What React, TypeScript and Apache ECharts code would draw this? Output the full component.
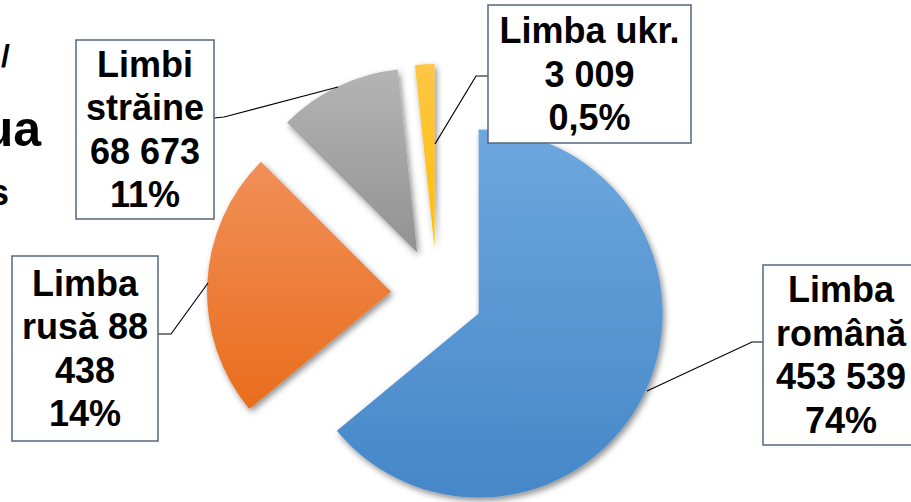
import React, { useEffect, useRef } from 'react';
import * as echarts from 'echarts';

// Categories in drawing order (clockwise from 12 o'clock)
const categories = ['Limba română', 'Limba rusă', 'Limbi străine', 'Limba ukr.'];
// Slice shares as drawn in the picture (per cent of the circle)
const sliceShares = [64.0, 23.5, 10.8, 1.7];
// Label texts as printed in the picture
const labelCounts = ['453 539', '88 438', '68 673', '3 009'];
const labelPercents = ['74%', '14%', '11%', '0,5%'];
const labelLines = [
  ['Limba', 'română', '453 539', '74%'],
  ['Limba', 'rusă 88', '438', '14%'],
  ['Limbi', 'străine', '68 673', '11%'],
  ['Limba ukr.', '3 009', '0,5%'],
];
const topColors = ['#6ea7de', '#f18f58', '#b4b4b4', '#ffc646'];
const bottomColors = ['#4587c8', '#e96d1c', '#929292', '#ffbf00'];

// layout (label boxes & leader lines)
const labelBoxes = [
  { x: 763, y: 265, w: 156, h: 180 },
  { x: 12, y: 256, w: 146, h: 185 },
  { x: 76, y: 40, w: 138, h: 179 },
  { x: 488, y: 5, w: 203, h: 138 },
];
const leaderPoints = [
  [[763, 342], [752, 342], [647, 391]],
  [[158, 334], [171, 334], [208, 283]],
  [[214, 118], [224, 117], [338, 87]],
  [[488, 76], [476, 76], [435, 144]],
];

const FONT = '"Liberation Sans", Arial, sans-serif';

export default function App() {
  const ref = useRef<HTMLDivElement>(null);
  useEffect(() => {
    if (!ref.current) return;
    const chart = echarts.init(ref.current, null, { renderer: 'svg' });
    const data = categories.map((name, i) => ({
      name,
      value: sliceShares[i],
      selected: true,
      itemStyle: {
        color: new echarts.graphic.LinearGradient(0, 0, 0, 1, [
          { offset: 0, color: topColors[i] },
          { offset: 1, color: bottomColors[i] },
        ]),
      },
    }));

    const labelGraphics: any[] = [];
    categories.forEach((_, i) => {
      const b = labelBoxes[i];
      labelGraphics.push({
        type: 'polyline',
        z: 100,
        shape: { points: leaderPoints[i] },
        style: { stroke: '#000', lineWidth: 1.2, fill: null },
      });
      labelGraphics.push({
        type: 'rect',
        z: 101,
        shape: { x: b.x, y: b.y, width: b.w, height: b.h },
        style: { fill: '#ffffff', stroke: '#56657f', lineWidth: 1.5 },
      });
      labelGraphics.push({
        type: 'text',
        z: 102,
        x: b.x + b.w / 2,
        y: b.y + b.h / 2,
        style: {
          text: labelLines[i].join('\n'),
          fill: '#000',
          font: `bold 36px ${FONT}`,
          lineHeight: 43.5,
          textAlign: 'center',
          textVerticalAlign: 'middle',
        },
      });
    });

    chart.setOption({
      animation: false,
      backgroundColor: '#ffffff',
      graphic: [
        {
          type: 'text',
          x: 41,
          y: 129,
          style: { text: 'ua', fill: '#000', font: `bold 50px ${FONT}`, textAlign: 'right', textVerticalAlign: 'middle' },
        },
        {
          type: 'text',
          x: 9,
          y: 192,
          style: { text: 's', fill: '#000', font: `bold 36px ${FONT}`, textAlign: 'right', textVerticalAlign: 'middle' },
        },
        {
          type: 'text',
          x: 10,
          y: 56,
          style: { text: '/', fill: '#000', font: `bold 32px ${FONT}`, textAlign: 'right', textVerticalAlign: 'middle' },
        },
        ...labelGraphics,
      ],
      series: [
        {
          type: 'pie',
          center: [437, 294],
          radius: 184,
          startAngle: 90,
          clockwise: true,
          selectedMode: 'multiple',
          selectedOffset: 46,
          avoidLabelOverlap: false,
          emphasis: { disabled: true },
          itemStyle: {
            shadowBlur: 6,
            shadowOffsetX: 2,
            shadowOffsetY: 3,
            shadowColor: 'rgba(0,0,0,0.45)',
          },
          label: { show: false },
          labelLine: { show: false },
          data,
        },
      ],
    });
    return () => chart.dispose();
  }, []);
  return (
    <div
      ref={ref}
      style={{ position: 'absolute', left: 0, top: 0, width: 911, height: 502 }}
    />
  );
}
